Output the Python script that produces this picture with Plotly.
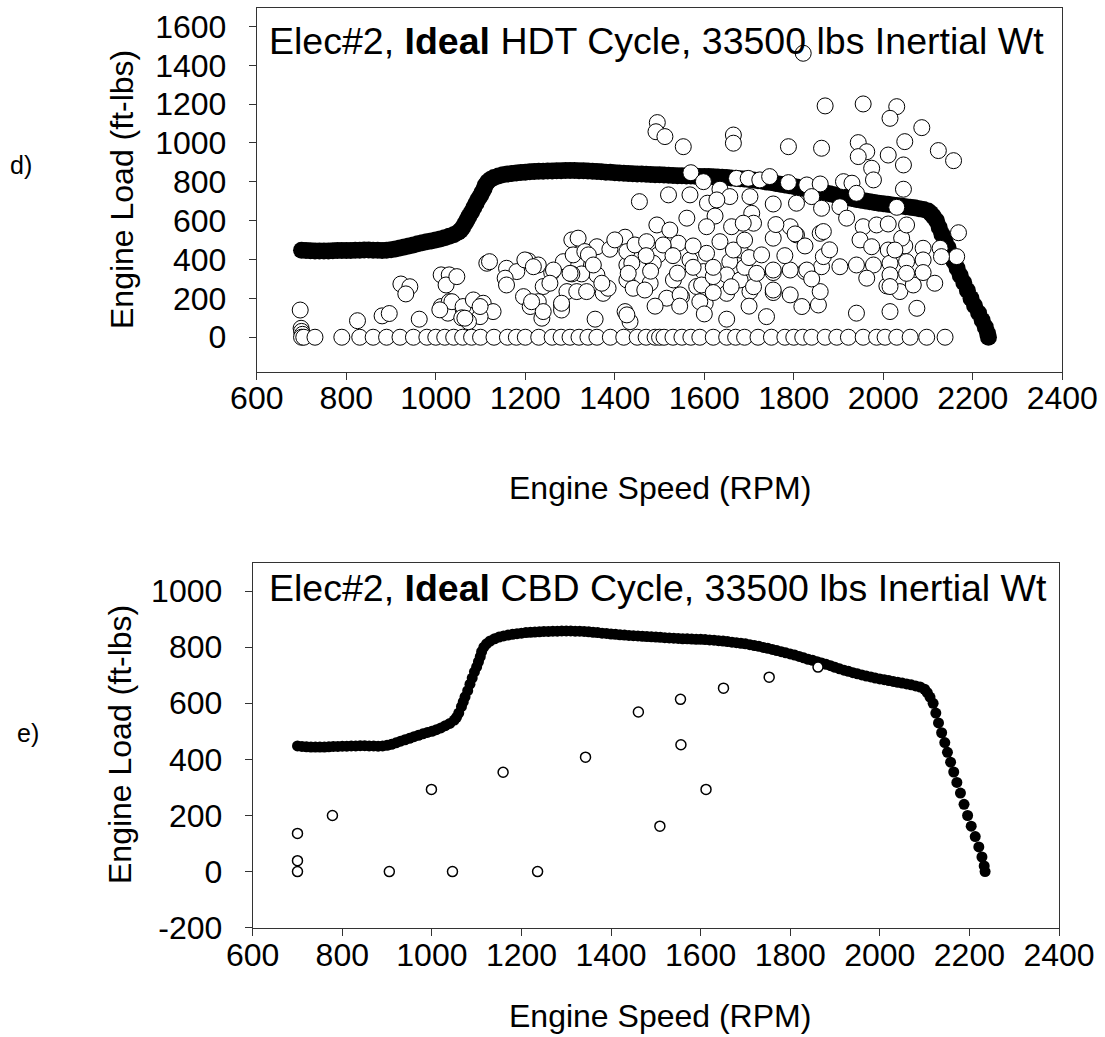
import plotly.graph_objects as go

# ---------------- data ----------------
# Full-load torque curve (RPM, ft-lbs), same curve for both cycles
curve_rpm = [700, 710, 720, 730, 740, 750, 760, 770, 780, 790, 800, 810, 820, 830, 840, 850, 860, 870, 880, 890,
             900, 910, 920, 930, 940, 950, 960, 970, 980, 990, 1000, 1010, 1020, 1030, 1040, 1050, 1055, 1060, 1066,
             1070, 1074, 1080, 1085, 1090, 1095, 1100, 1104, 1108, 1111, 1116, 1122, 1130, 1140, 1150, 1160, 1170,
             1180, 1190, 1200, 1210, 1220, 1230, 1240, 1250, 1260, 1270, 1280, 1290, 1300, 1310, 1320, 1330, 1340,
             1350, 1360, 1370, 1380, 1390, 1400, 1410, 1420, 1430, 1440, 1450, 1460, 1470, 1480, 1490, 1500, 1510,
             1520, 1530, 1540, 1550, 1560, 1570, 1580, 1590, 1600, 1610, 1620, 1630, 1640, 1650, 1660, 1670, 1680,
             1690, 1700, 1710, 1720, 1730, 1740, 1750, 1760, 1770, 1780, 1790, 1800, 1810, 1820, 1830, 1840, 1850,
             1860, 1870, 1880, 1890, 1900, 1910, 1920, 1930, 1940, 1950, 1960, 1970, 1980, 1990, 2000, 2010, 2020,
             2030, 2040, 2050, 2060, 2070, 2080, 2090, 2100, 2106, 2112,
             2119, 2125, 2131, 2138, 2145, 2151, 2158, 2165, 2172, 2180, 2188, 2196, 2204, 2213, 2221, 2228, 2233, 2235]
curve_load = [448, 446, 445, 444, 444, 444, 444, 445, 446, 446, 447, 447, 448, 448, 449, 449, 448, 448, 447, 448,
              450, 454, 459, 465, 470, 475, 481, 486, 491, 496, 500, 506, 512, 520, 528, 540, 550, 565, 588,
              605, 623, 645, 668, 690, 712, 730, 748, 766, 784, 800, 812, 822, 830, 836, 840, 843,
              846, 848, 850, 852, 853, 854, 855, 856, 856, 857, 857, 858, 858, 858, 857, 857, 856,
              855, 853, 852, 850, 849, 847, 846, 844, 843, 842, 841, 840, 839, 838, 837, 836, 835,
              834, 833, 832, 831, 830, 830, 829, 828, 828, 827, 826, 825, 823, 822, 820, 818, 816,
              814, 812, 809, 806, 803, 799, 796, 792, 788, 784, 780, 776, 772, 767, 762, 757, 753,
              748, 744, 739, 734, 728, 723, 718, 714, 709, 705, 701, 697, 694, 690, 687, 684, 681,
              678, 675, 672, 669, 666, 662, 658, 650, 638, 622,
              600, 565, 530, 495, 460, 425, 390, 355, 318, 280, 240, 200, 162, 125, 88, 52, 20, 0]

# HDT cycle operating points (RPM, ft-lbs)
hdt_points = [
    (697, 140), (699, 46), (700, 30), (702, 15), (825, 85), (880, 110), (896, 122), (922, 274), (942, 260),
    (933, 223), (963, 93),
    (1012, 321), (1030, 321), (1023, 269), (1012, 158), (1030, 183), (1027, 124), (1047, 312), (1036, 183),
    (1061, 158), (1084, 192), (1106, 175), (1128, 132), (1099, 106), (1073, 80), (1114, 381), (1158, 355),
    (1181, 338), (1155, 304), (1120, 389), (1158, 269), (1207, 393), (1229, 372), (1259, 333), (1285, 389),
    (1304, 501), (1318, 510), (1360, 466), (1389, 453), (1423, 515), (1400, 501), (1307, 424), (1333, 441),
    (1348, 372), (1360, 321), (1326, 326), (1304, 326), (1240, 261), (1293, 235), (1315, 235), (1337, 235),
    (1374, 226), (1385, 252), (1427, 295), (1427, 372), (1438, 415), (1196, 209), (1229, 183), (1211, 158),
    (1281, 166), (1281, 140), (1237, 98), (1356, 93), (1423, 132), (1434, 80), (1199, 398), (1218, 363),
    (1263, 346), (1255, 278), (1240, 132), (1371, 278), (1427, 441), (1438, 381), (1441, 252), (1427, 115),
    (1099, 158), (1058, 100), (1009, 141), (1065, 98), (1214, 183), (1281, 175), (1300, 329), (1341, 424),
    (1352, 372), (1430, 329),
    (1495, 1105), (1492, 1058), (1512, 1033), (1553, 981), (1665, 1041), (1665, 999), (1570, 847), (1598, 801),
    (1672, 818), (1698, 818), (1635, 762), (1455, 698), (1520, 733), (1568, 733), (1607, 690), (1657, 724),
    (1702, 724), (1561, 613), (1624, 624), (1661, 569), (1706, 638), (1710, 587), (1605, 569), (1494, 578),
    (1523, 552), (1445, 475), (1471, 492), (1542, 484), (1635, 492), (1497, 424), (1568, 398), (1605, 432),
    (1657, 389), (1680, 449), (1479, 278), (1531, 295), (1598, 338), (1650, 321), (1702, 235), (1516, 201),
    (1549, 209), (1602, 175), (1650, 226), (1467, 243), (1583, 261), (1650, 93), (1508, 475), (1486, 381),
    (1546, 218), (1594, 269), (1590, 183), (1620, 312), (1665, 449), (1687, 587), (1628, 707), (1680, 295),
    (1710, 260), (1480, 340), (1540, 330), (1575, 360), (1620, 360), (1690, 360), (1470, 420), (1530, 420),
    (1575, 470), (1690, 500), (1700, 410), (1660, 260), (1620, 230), (1490, 160), (1545, 160), (1600, 120),
    (1700, 160),
    (1870, 1191), (1955, 1201), (2030, 1187), (2015, 1127), (2086, 1079), (1788, 981), (1862, 973), (1944, 1002),
    (2048, 1007), (2123, 961), (2157, 909), (1963, 955), (1944, 930), (2011, 938), (2045, 887), (1974, 870),
    (2045, 762), (1978, 810), (1724, 810), (1746, 827), (1788, 796), (1829, 784), (1859, 789), (1911, 801),
    (1930, 793), (1754, 686), (1806, 690), (1840, 724), (1862, 664), (1903, 672), (1940, 741), (2030, 669),
    (1918, 613), (1955, 569), (1792, 569), (1806, 527), (1859, 535), (1948, 501), (1974, 466), (2011, 449),
    (2048, 470), (2089, 458), (2127, 458), (2164, 415), (2168, 538), (1903, 363), (1940, 372), (1978, 372),
    (2015, 381), (2052, 389), (2089, 398), (2130, 415), (1862, 363), (1825, 338), (1792, 346), (1754, 333),
    (1717, 329), (1963, 304), (2008, 264), (2037, 235), (2067, 269), (2115, 278), (1754, 230), (1792, 218),
    (1818, 158), (1855, 166), (1940, 124), (2015, 132), (2075, 149), (1739, 106), (1821, 1462), (1866, 544),
    (1866, 415), (1825, 470), (1803, 532), (1754, 510), (1728, 424), (1754, 346), (1829, 346), (1859, 235),
    (1754, 243), (2041, 510), (1985, 578), (2011, 583), (2052, 578), (2026, 449), (2015, 321), (2052, 329),
    (2089, 333), (2015, 261), (1760, 580), (1780, 420), (1840, 300), (1880, 450),
    # idle / motoring points on the zero line
    (700, 0), (705, 0), (730, 0), (790, 0), (830, 0), (860, 0), (890, 0), (920, 0), (950, 0), (980, 0),
    (1000, 0), (1020, 0), (1040, 0), (1060, 0), (1080, 0), (1100, 0), (1130, 0), (1160, 0), (1180, 0),
    (1200, 0), (1230, 0), (1260, 0), (1280, 0), (1300, 0), (1320, 0), (1340, 0), (1360, 0), (1390, 0),
    (1420, 0), (1450, 0), (1470, 0), (1490, 0), (1500, 0), (1510, 0), (1530, 0), (1550, 0), (1570, 0),
    (1590, 0), (1620, 0), (1650, 0), (1670, 0), (1690, 0), (1720, 0), (1750, 0), (1780, 0), (1800, 0),
    (1820, 0), (1840, 0), (1870, 0), (1896, 0), (1922, 0), (1955, 0), (1985, 0), (2004, 0), (2030, 0),
    (2060, 0), (2097, 0), (2138, 0),
]

# CBD cycle operating points (RPM, ft-lbs)
cbd_points = [(700, 0), (700, 39), (700, 136), (778, 200), (905, 0), (999, 293), (1046, 0), (1159, 354),
              (1236, 0), (1343, 408), (1461, 569), (1509, 162), (1555, 614), (1556, 452), (1612, 293),
              (1651, 654), (1753, 693), (1862, 729)]

x_ticks = [600, 800, 1000, 1200, 1400, 1600, 1800, 2000, 2200, 2400]
y_ticks_top = [0, 200, 400, 600, 800, 1000, 1200, 1400, 1600]
y_ticks_bot = [-200, 0, 200, 400, 600, 800, 1000]
y_ticktext_bot = ["-200", "0", "200", "400", "600", "800", "1000"]

hdt_rpm = [p[0] for p in hdt_points]
hdt_load = [p[1] for p in hdt_points]
cbd_rpm = [p[0] for p in cbd_points]
cbd_load = [p[1] for p in cbd_points]

# ---------------- figure ----------------
W, H = 1105, 1037
FONT = "Liberation Sans, Arial, Helvetica, sans-serif"

fig = go.Figure()

fig.add_trace(go.Scatter(x=curve_rpm, y=curve_load, mode="markers", xaxis="x", yaxis="y",
                         marker=dict(size=17, color="black", line=dict(width=0)), showlegend=False))
fig.add_trace(go.Scatter(x=hdt_rpm, y=hdt_load, mode="markers", xaxis="x", yaxis="y",
                         marker=dict(size=16, color="white", line=dict(width=1, color="black")),
                         showlegend=False))
fig.add_trace(go.Scatter(x=curve_rpm, y=curve_load, mode="markers", xaxis="x2", yaxis="y2",
                         marker=dict(size=11, color="black", line=dict(width=0)), showlegend=False))
fig.add_trace(go.Scatter(x=cbd_rpm, y=cbd_load, mode="markers", xaxis="x2", yaxis="y2",
                         marker=dict(size=10, color="white", line=dict(width=1.5, color="black")),
                         showlegend=False))


def px_x(p):
    return p / W


def px_y(p):
    return 1 - p / H


axis_common = dict(showline=True, mirror=True, linecolor="#333333", linewidth=1, showgrid=False,
                   zeroline=False, ticks="outside", ticklen=7, tickcolor="#333333", automargin=False,
                   tickfont=dict(family=FONT, size=32, color="black"))

fig.update_layout(
    width=W, height=H,
    margin=dict(l=0, r=0, t=0, b=0, pad=0),
    paper_bgcolor="white", plot_bgcolor="white",
    font=dict(family=FONT, color="black"),
    xaxis=dict(domain=[px_x(256.8), px_x(1062.3)], anchor="y", range=[600, 2400], tickvals=x_ticks,
               ticklabelstandoff=-9, **axis_common),
    yaxis=dict(domain=[px_y(372), px_y(8)], anchor="x", range=[-179, 1695], tickvals=y_ticks_top,
               ticklabelstandoff=16, **axis_common),
    xaxis2=dict(domain=[px_x(252.7), px_x(1059)], anchor="y2", range=[600, 2400], tickvals=x_ticks,
                ticklabelstandoff=-8, **axis_common),
    yaxis2=dict(domain=[px_y(927.7), px_y(563.3)], anchor="x2", range=[-200, 1099], tickvals=y_ticks_bot,
                ticktext=y_ticktext_bot, ticklabelstandoff=16, **axis_common),
)

ann = []
ann.append(dict(text="Elec#2, <b>Ideal</b> HDT Cycle, 33500 lbs Inertial Wt", x=px_x(267), y=px_y(41),
                xref="paper", yref="paper", xanchor="left", yanchor="middle", showarrow=False,
                font=dict(family=FONT, size=37.5, color="black")))
ann.append(dict(text="Elec#2, <b>Ideal</b> CBD Cycle, 33500 lbs Inertial Wt", x=px_x(267), y=px_y(588),
                xref="paper", yref="paper", xanchor="left", yanchor="middle", showarrow=False,
                font=dict(family=FONT, size=37.5, color="black")))
ann.append(dict(text="Engine Load (ft-lbs)", x=px_x(122), y=px_y(190), textangle=-90,
                xref="paper", yref="paper", xanchor="center", yanchor="middle", showarrow=False,
                font=dict(family=FONT, size=32, color="black")))
ann.append(dict(text="Engine Load (ft-lbs)", x=px_x(120), y=px_y(745), textangle=-90,
                xref="paper", yref="paper", xanchor="center", yanchor="middle", showarrow=False,
                font=dict(family=FONT, size=32, color="black")))
ann.append(dict(text="Engine Speed (RPM)", x=px_x(660), y=px_y(488),
                xref="paper", yref="paper", xanchor="center", yanchor="middle", showarrow=False,
                font=dict(family=FONT, size=32, color="black")))
ann.append(dict(text="Engine Speed (RPM)", x=px_x(660), y=px_y(1016),
                xref="paper", yref="paper", xanchor="center", yanchor="middle", showarrow=False,
                font=dict(family=FONT, size=32, color="black")))
ann.append(dict(text="d)", x=px_x(21), y=px_y(165),
                xref="paper", yref="paper", xanchor="center", yanchor="middle", showarrow=False,
                font=dict(family=FONT, size=25, color="black")))
ann.append(dict(text="e)", x=px_x(28), y=px_y(733),
                xref="paper", yref="paper", xanchor="center", yanchor="middle", showarrow=False,
                font=dict(family=FONT, size=25, color="black")))
fig.update_layout(annotations=ann)

fig.write_html("out.html")
